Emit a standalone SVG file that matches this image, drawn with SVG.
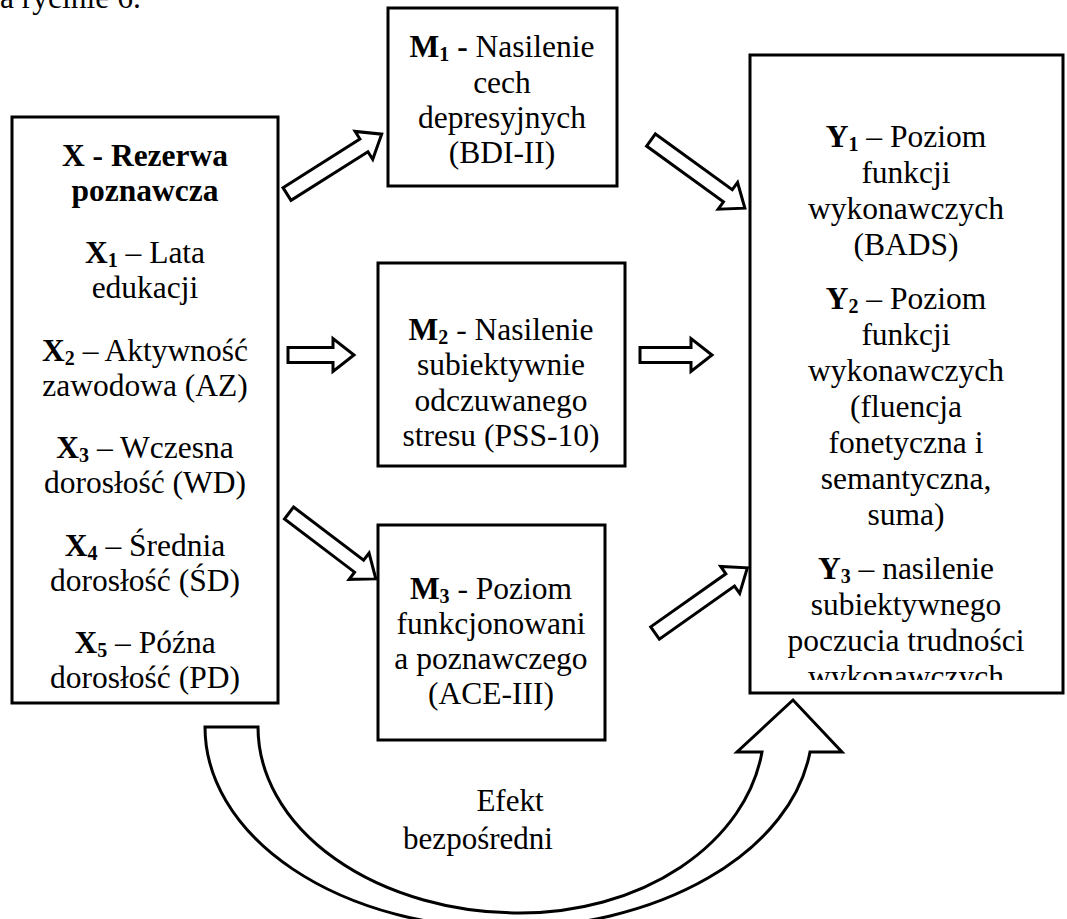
<svg xmlns="http://www.w3.org/2000/svg" width="1067" height="919" viewBox="0 0 1067 919">
<style>
text{font-family:"Liberation Serif","Times New Roman",serif;font-size:31.5px;fill:#000;text-anchor:middle}
.b{font-weight:bold}
.s{font-size:20px;font-weight:bold}
.lbl{font-size:31px}
.box{fill:#fff;stroke:#000;stroke-width:3}
.arr{fill:#fff;stroke:#000;stroke-width:3;stroke-linejoin:miter}
</style>
<defs>
<clipPath id="yclip"><rect x="752" y="57" width="309" height="623"/></clipPath>
</defs>
<rect width="1067" height="919" fill="#fff"/>
<text x="0" y="8" style="text-anchor:start">a rycinie 6.</text>

<g id="X">
<rect class="box" x="12" y="117" width="266" height="586"/>
<text x="145" y="166" class="b">X - Rezerwa</text>
<text x="145" y="201" class="b">poznawcza</text>
<text x="145" y="263"><tspan class="b">X</tspan><tspan class="s" dy="4">1</tspan><tspan dy="-4"> – Lata</tspan></text>
<text x="145" y="298">edukacji</text>
<text x="145" y="361"><tspan class="b">X</tspan><tspan class="s" dy="4">2</tspan><tspan dy="-4"> – Aktywność</tspan></text>
<text x="145" y="396">zawodowa (AZ)</text>
<text x="145" y="458"><tspan class="b">X</tspan><tspan class="s" dy="4">3</tspan><tspan dy="-4"> – Wczesna</tspan></text>
<text x="145" y="493">dorosłość (WD)</text>
<text x="145" y="556"><tspan class="b">X</tspan><tspan class="s" dy="4">4</tspan><tspan dy="-4"> – Średnia</tspan></text>
<text x="145" y="591">dorosłość (ŚD)</text>
<text x="145" y="653"><tspan class="b">X</tspan><tspan class="s" dy="4">5</tspan><tspan dy="-4"> – Późna</tspan></text>
<text x="145" y="688">dorosłość (PD)</text>
</g>

<g id="M1">
<rect class="box" x="388" y="8" width="229" height="178"/>
<text x="502" y="57"><tspan class="b">M</tspan><tspan class="s" dy="4">1</tspan><tspan class="b" dy="-4"> -</tspan> Nasilenie</text>
<text x="502" y="93">cech</text>
<text x="502" y="128">depresyjnych</text>
<text x="502" y="163">(BDI-II)</text>
</g>

<g id="M2">
<rect class="box" x="378" y="263" width="247" height="203"/>
<text x="501" y="340"><tspan class="b">M</tspan><tspan class="s" dy="4">2</tspan><tspan dy="-4"> - Nasilenie</tspan></text>
<text x="501" y="375">subiektywnie</text>
<text x="501" y="411">odczuwanego</text>
<text x="501" y="446">stresu (PSS-10)</text>
</g>

<g id="M3">
<rect class="box" x="378" y="525" width="227" height="215"/>
<text x="491" y="599"><tspan class="b">M</tspan><tspan class="s" dy="4">3</tspan><tspan dy="-4"> - Poziom</tspan></text>
<text x="491" y="634">funkcjonowani</text>
<text x="491" y="669">a poznawczego</text>
<text x="491" y="704">(ACE-III)</text>
</g>

<g id="Y">
<rect class="box" x="750" y="55" width="313" height="638"/>
<g clip-path="url(#yclip)">
<text x="906" y="147"><tspan class="b">Y</tspan><tspan class="s" dy="4">1</tspan><tspan dy="-4"> – Poziom</tspan></text>
<text x="906" y="183">funkcji</text>
<text x="906" y="219">wykonawczych</text>
<text x="906" y="255">(BADS)</text>
<text x="906" y="309"><tspan class="b">Y</tspan><tspan class="s" dy="4">2</tspan><tspan dy="-4"> – Poziom</tspan></text>
<text x="906" y="345">funkcji</text>
<text x="906" y="381">wykonawczych</text>
<text x="906" y="417">(fluencja</text>
<text x="906" y="453">fonetyczna i</text>
<text x="906" y="489">semantyczna,</text>
<text x="906" y="525">suma)</text>
<text x="906" y="579"><tspan class="b">Y</tspan><tspan class="s" dy="4">3</tspan><tspan dy="-4"> – nasilenie</tspan></text>
<text x="906" y="615">subiektywnego</text>
<text x="906" y="651">poczucia trudności</text>
<text x="906" y="687">wykonawczych</text>
</g>
</g>

<g id="connectors">
<path class="arr" transform="translate(287,194) rotate(-32.3)" d="M0,-7.5 H91 V-16.5 L112,0 L91,16.5 V7.5 H0 Z"/>
<path class="arr" transform="translate(651,140) rotate(36)" d="M0,-7.5 H95 V-16.5 L116,0 L95,16.5 V7.5 H0 Z"/>
<path class="arr" transform="translate(288,355)" d="M0,-7.5 H45 V-16.5 L66,0 L45,16.5 V7.5 H0 Z"/>
<path class="arr" transform="translate(640,355)" d="M0,-7.5 H51 V-16.5 L72,0 L51,16.5 V7.5 H0 Z"/>
<path class="arr" transform="translate(289,513) rotate(37.2)" d="M0,-7.5 H88 V-16.5 L109,0 L88,16.5 V7.5 H0 Z"/>
<path class="arr" transform="translate(655,633) rotate(-35.2)" d="M0,-7.5 H92 V-16.5 L113,0 L92,16.5 V7.5 H0 Z"/>
<path class="arr" d="M205,727 L258,727 A262,186 0 0 0 520,913 A244,186 0 0 0 762,752 L737,752 L793,700 L842,752 L810,752 A307,201 0 0 1 505,928 A300,201 0 0 1 205,727 Z"/>
<text class="lbl" x="510" y="811">Efekt</text>
<text class="lbl" x="478" y="849">bezpośredni</text>
</g>
</svg>
